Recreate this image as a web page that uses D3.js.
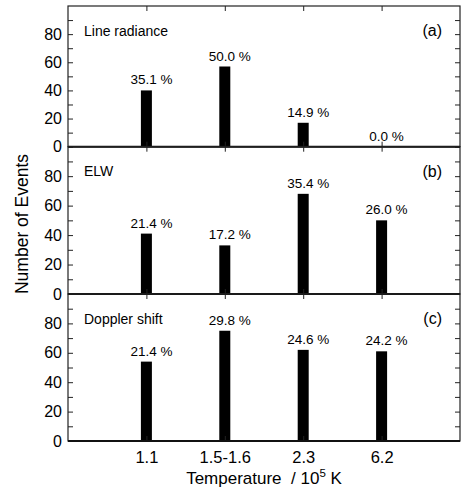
<!DOCTYPE html>
<html>
<head>
<meta charset="utf-8">
<script src="https://cdn.jsdelivr.net/npm/d3@7"></script>
<style>
  body { margin: 0; background: #fff; }
  svg { display: block; font-family: "Liberation Sans", Arial, Helvetica, sans-serif; }
</style>
</head>
<body>
<svg id="chart"></svg>
<script>
// data
var categories = ["1.1", "1.5-1.6", "2.3", "6.2"]
var panelNames = ["Line radiance", "ELW", "Doppler shift"]
var panelTags = ["(a)", "(b)", "(c)"]
var lineRadiance = [40, 57, 17, 0]
var elw = [41, 33, 68, 50]
var doppler = [54, 75, 62, 61]
var lineRadiancePct = ["35.1 %", "50.0 %", "14.9 %", "0.0 %"]
var elwPct = ["21.4 %", "17.2 %", "35.4 %", "26.0 %"]
var dopplerPct = ["21.4 %", "29.8 %", "24.6 %", "24.2 %"]
var yTickValues = [0, 10, 20, 30, 40, 50, 60, 70, 80, 90]
var yLabelValues = [0, 20, 40, 60, 80]

var panelValues = [lineRadiance, elw, doppler]
var panelPcts = [lineRadiancePct, elwPct, dopplerPct]

var dimensions = {
  width: 461,
  height: 488,
  left: 68,
  right: 460
}
// top and zero line of each panel
var panelTop = [6, 146.7, 294]
var panelBottom = [146.7, 294, 441]

var svg = d3.select("#chart")
  .attr("width", dimensions.width)
  .attr("height", dimensions.height)

var xScale = d3.scalePoint()
  .domain(categories)
  .range([dimensions.left, dimensions.right])
  .padding(1)

var barWidth = 11

panelValues.forEach(function(values, p) {
  var yScale = d3.scaleLinear()
    .domain([0, 100])
    .range([panelBottom[p], panelTop[p]])

  var g = svg.append("g")
  var rows = categories.map((c, i) => ({cat: c, value: values[i], pct: panelPcts[p][i]}))

  // bars
  g.selectAll(".bar")
    .data(rows)
    .enter()
    .append("rect")
      .attr("class", "bar")
      .attr("x", d => xScale(d.cat) - barWidth / 2)
      .attr("y", d => yScale(d.value))
      .attr("width", barWidth)
      .attr("height", d => yScale(0) - yScale(d.value))
      .attr("fill", "#000")

  // percent labels
  g.selectAll(".pct")
    .data(rows)
    .enter()
    .append("text")
      .attr("class", "pct")
      .attr("x", d => xScale(d.cat) + 5)
      .attr("y", d => yScale(d.value) - 6)
      .attr("text-anchor", "middle")
      .attr("font-size", 13.5)
      .text(d => d.pct)

  // left axis
  var leftAxis = d3.axisLeft(yScale)
    .tickValues(yTickValues)
    .tickSize(-5)
    .tickPadding(6)
    .tickFormat(d => yLabelValues.includes(d) ? d : "")
  var la = g.append("g")
    .attr("transform", `translate(${dimensions.left},0)`)
    .call(leftAxis)
  la.select(".domain").remove()
  la.selectAll("text").attr("font-size", 16).attr("fill", "#000")
  la.attr("font-family", null)

  // right axis
  var ra = g.append("g")
    .attr("transform", `translate(${dimensions.right},0)`)
    .call(d3.axisRight(yScale).tickValues(yTickValues).tickSize(-5).tickFormat(""))
  ra.select(".domain").remove()

  // top ticks
  var ta = g.append("g")
    .attr("transform", `translate(0,${panelTop[p]})`)
    .call(d3.axisTop(xScale).tickSize(-5).tickFormat(""))
  ta.select(".domain").remove()

  // bottom ticks (on zero line)
  var bottomAxis = d3.axisBottom(xScale).tickSize(-5).tickPadding(10)
  if (p < 2) bottomAxis.tickFormat("")
  var ba = g.append("g")
    .attr("transform", `translate(0,${panelBottom[p]})`)
    .call(bottomAxis)
  ba.select(".domain").remove()
  ba.attr("font-family", null)
  ba.selectAll("text").attr("font-size", 16.5).attr("fill", "#000")

  // frame
  g.append("rect")
    .attr("x", dimensions.left)
    .attr("y", panelTop[p])
    .attr("width", dimensions.right - dimensions.left)
    .attr("height", panelBottom[p] - panelTop[p])
    .attr("fill", "none")
    .attr("stroke", "#222")
    .attr("stroke-width", 1.2)

  // zero line
  g.append("line")
    .attr("x1", dimensions.left)
    .attr("x2", dimensions.right)
    .attr("y1", yScale(0))
    .attr("y2", yScale(0))
    .attr("stroke", "#111")
    .attr("stroke-width", 2)

  g.selectAll(".tick line").attr("stroke", "#222")

  // panel name and tag
  g.append("text")
    .attr("x", 84)
    .attr("y", panelTop[p] + 29.5)
    .attr("font-size", 14)
    .text(panelNames[p])

  g.append("text")
    .attr("x", 442)
    .attr("y", panelTop[p] + 30)
    .attr("text-anchor", "end")
    .attr("font-size", 16)
    .text(panelTags[p])
})

// axis titles
svg.append("text")
  .attr("transform", "translate(28,224) rotate(-90)")
  .attr("text-anchor", "middle")
  .attr("font-size", 17.5)
  .text("Number of Events")

var xt = svg.append("text")
  .attr("x", 264)
  .attr("y", 484)
  .attr("text-anchor", "middle")
  .attr("font-size", 17)
xt.append("tspan").text("Temperature\u00a0 / 10")
xt.append("tspan").attr("dy", -7).attr("font-size", 11.5).text("5")
xt.append("tspan").attr("dy", 7).text(" K")
</script>
</body>
</html>
